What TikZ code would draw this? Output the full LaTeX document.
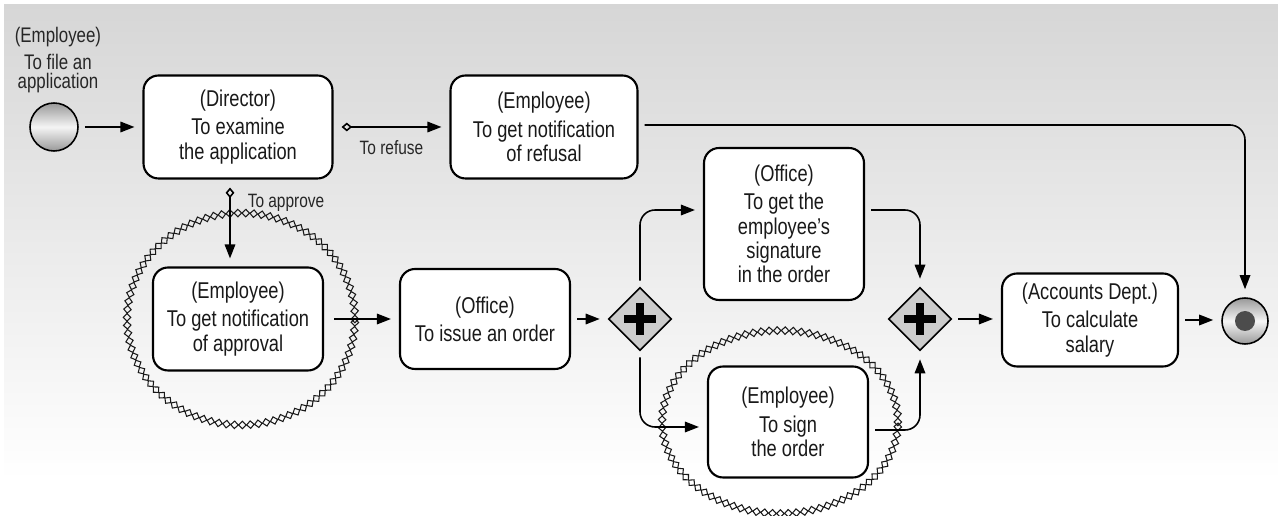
\documentclass[tikz,border=0pt]{standalone}
\usepackage{fontspec}
\setmainfont{Liberation Sans}[FakeStretch=0.8]
\usetikzlibrary{arrows.meta, positioning, shapes.geometric, decorations.shapes, calc}

\begin{document}
\begin{tikzpicture}[x=0.02cm, y=-0.02cm,
  task/.style={draw, line width=1.2pt, fill=white, rounded corners=0.3cm,
    align=center, text=black!90, font=\fontsize{13}{13.8}\selectfont, inner sep=1pt},
  gateway/.style={diamond, draw, line width=0.9pt, fill=black!20,
    minimum size=1.26cm, inner sep=0pt,
    path picture={\draw[line width=5pt]
      ([xshift=-0.32cm]path picture bounding box.center) -- ([xshift=0.32cm]path picture bounding box.center)
      ([yshift=-0.32cm]path picture bounding box.center) -- ([yshift=0.32cm]path picture bounding box.center);}},
  event/.style={circle, draw, line width=0.9pt, top color=black!40, bottom color=black!40,
    middle color=black!4},
  flow/.style={line width=0.9pt, -{Triangle[length=8pt,width=6pt]},
    shorten <=0.12cm, shorten >=0.16cm, rounded corners=0.3cm},
  cond/.style={flow, {Diamond[open,length=6pt,width=5pt]}-{Triangle[length=8pt,width=6pt]}},
  lbl/.style={inner sep=0pt, text=black!85, font=\fontsize{11}{12}\selectfont},
  wavy/.style={decorate, decoration={shape backgrounds, shape=diamond,
    shape size=0.15cm, shape sep=0.16cm}, draw=black!90, line width=0.6pt}]

  % Background
  \useasboundingbox (0,0) rectangle (1278,516);
  \shade[top color=black!16, bottom color=white] (4,5) rectangle (1278,480);

  % Highlight rings
  \draw[wavy] (241,319) ellipse [x radius=2.28cm, y radius=2.12cm];
  \draw[wavy] (780,422) ellipse [x radius=2.36cm, y radius=1.83cm];

  % Events
  \node[event, minimum size=0.96cm] (start) at (54,127) {};
  \node[lbl, anchor=south, font=\fontsize{12}{10.5}\selectfont, align=center] (startlbl) at (58,93)
    {(Employee)\\[3.2pt]To file an\\application};
  \node[event, minimum size=0.92cm] (stop) at (1245,321) {};
  \fill[black!70] (stop) circle (0.2cm);

  % Tasks
  \node[task, minimum width=3.78cm, minimum height=2.06cm] (director) at (238,127)
    {(Director)\\[2.3pt]To examine\\the application};
  \node[task, minimum width=3.74cm, minimum height=2.06cm] (refusal) at (544,127)
    {(Employee)\\[2.3pt]To get notification\\of refusal};
  \node[task, minimum width=3.4cm, minimum height=2.06cm] (approval) at (238,319)
    {(Employee)\\[2.3pt]To get notification\\of approval};
  \node[task, minimum width=3.4cm, minimum height=2cm] (issue) at (485,319)
    {(Office)\\[2.3pt]To issue an order};
  \node[task, minimum width=3.2cm, minimum height=3.04cm] (signature) at (784,224)
    {(Office)\\[2.3pt]To get the\\employee’s\\signature\\in the order};
  \node[task, minimum width=3.2cm, minimum height=2.22cm] (sign) at (788,422)
    {(Employee)\\[2.3pt]To sign\\the order};
  \node[task, minimum width=3.52cm, minimum height=1.86cm] (accounts) at (1090,320)
    {(Accounts Dept.)\\[2.3pt]To calculate\\salary};

  % Gateways
  \node[gateway] (split) at (640,319) {};
  \node[gateway] (join) at (920,319) {};

  % Flows
  \draw[flow] (start) -- (start -| director.west);
  \draw[cond, shorten <=0.16cm] (director.east) -- (refusal.west)
    node[lbl, midway, below=0.25cm] (refuselbl) {To refuse};
  \draw[cond, shorten <=0.16cm] ([xshift=-0.16cm]director.south) -- ([xshift=-0.16cm]approval.north)
    node[lbl, pos=0.27, right=0.34cm] (approvelbl) {To approve};
  \draw[flow, shorten <=0.2cm] (approval.east) -- (issue.west);
  \draw[flow] (issue.east) -- (split.west);
  \draw[flow] (split.north) |- ([yshift=0.28cm]signature.west);
  \draw[flow] (split.south) |- ([yshift=-0.1cm]sign.west);
  \draw[flow] ([yshift=0.28cm]signature.east) -| (join.north);
  \draw[flow] ([yshift=-0.16cm]sign.east) -| (join.south);
  \draw[flow] (join.east) -- (join -| accounts.west);
  \draw[flow] (accounts.east) -- (accounts -| stop.west);
  \draw[flow] ([yshift=0.04cm]refusal.east) -| (stop.north);
\end{tikzpicture}
\end{document}
